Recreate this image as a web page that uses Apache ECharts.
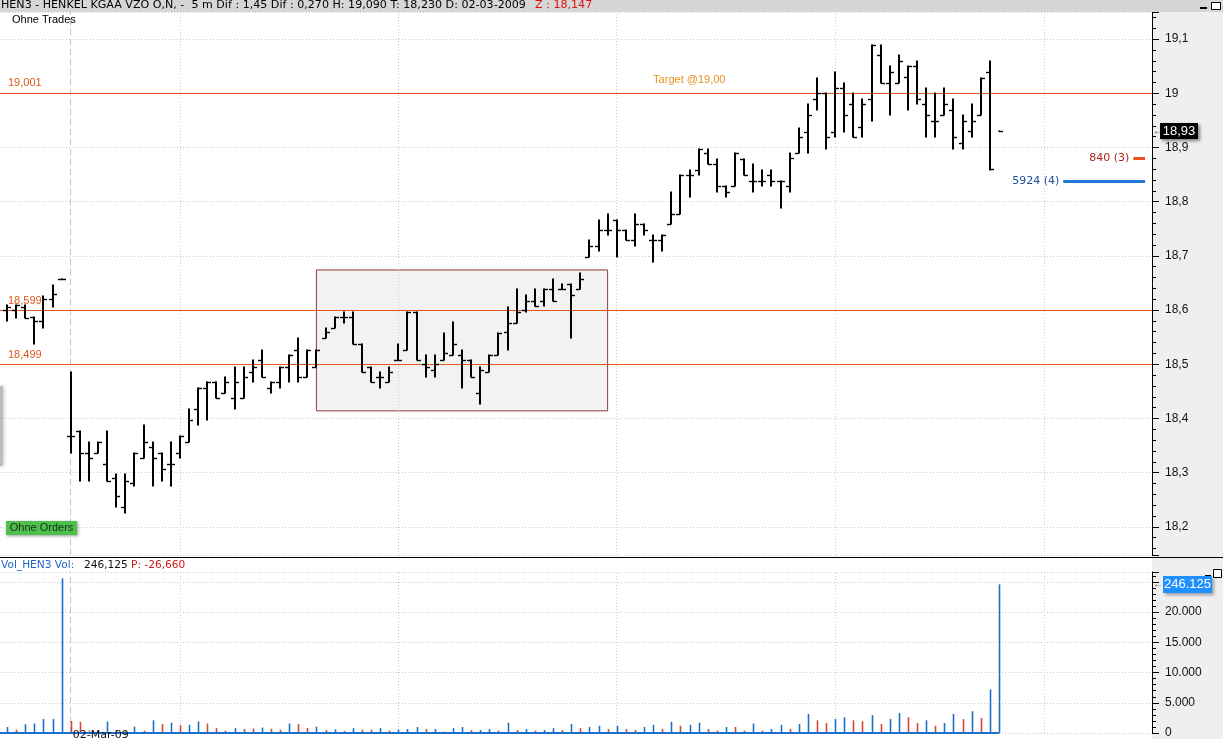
<!DOCTYPE html>
<html><head><meta charset="utf-8">
<script src="https://cdn.jsdelivr.net/npm/echarts@6/dist/echarts.min.js"></script>
<style>html,body{margin:0;padding:0;background:#fff;overflow:hidden}#c{width:1223px;height:739px}</style>
</head><body><div id="c"></div>
<script>
// ---------- DATA (5-minute OHLC bars, HEN3) ----------
const barOpen = [
18.600,18.600,18.605,18.587,18.580,18.620,18.657,18.367,18.377,18.337,
18.337,18.316,18.290,18.236,18.280,18.327,18.347,18.337,18.316,18.337,
18.356,18.417,18.457,18.467,18.447,18.437,18.437,18.486,18.508,18.457,
18.467,18.495,18.527,18.476,18.495,18.548,18.566,18.587,18.587,18.537,
18.495,18.476,18.467,18.508,18.527,18.597,18.500,18.490,18.508,18.517,
18.517,18.508,18.447,18.486,18.517,18.560,18.577,18.600,18.617,18.617,
18.638,18.638,18.648,18.638,18.697,18.718,18.748,18.767,18.748,18.729,
18.758,18.729,18.729,18.758,18.778,18.849,18.858,18.889,18.869,18.829,
18.829,18.878,18.838,18.838,18.849,18.838,18.829,18.889,18.929,18.989,
19.000,18.929,19.009,18.980,18.938,18.989,19.070,19.019,19.019,19.030,
19.050,18.980,18.949,18.960,18.969,18.908,18.930,18.960,19.040,null];
const barHigh = [
18.610,18.610,18.610,18.587,18.626,18.646,18.657,18.486,18.377,18.356,
18.356,18.377,18.297,18.297,18.337,18.388,18.356,18.337,18.356,18.368,
18.417,18.457,18.467,18.467,18.476,18.495,18.495,18.508,18.527,18.467,
18.495,18.517,18.548,18.527,18.527,18.566,18.587,18.597,18.597,18.537,
18.495,18.486,18.495,18.537,18.597,18.597,18.517,18.517,18.557,18.578,
18.527,18.508,18.495,18.517,18.557,18.606,18.638,18.628,18.638,18.638,
18.657,18.648,18.648,18.668,18.729,18.767,18.778,18.767,18.748,18.778,
18.758,18.738,18.738,18.818,18.849,18.858,18.898,18.898,18.878,18.829,
18.889,18.878,18.869,18.858,18.858,18.838,18.889,18.936,18.980,19.029,
19.000,19.040,19.019,19.000,18.989,19.089,19.089,19.050,19.070,19.050,
19.060,19.009,19.000,19.009,18.989,18.960,18.980,19.029,19.060,18.930];
const barLow = [
18.580,18.585,18.585,18.537,18.567,18.606,18.657,18.336,18.285,18.285,
18.337,18.285,18.236,18.225,18.276,18.327,18.276,18.285,18.276,18.327,
18.356,18.388,18.397,18.437,18.447,18.417,18.437,18.467,18.476,18.447,
18.457,18.467,18.467,18.476,18.495,18.548,18.566,18.577,18.537,18.486,
18.467,18.457,18.467,18.508,18.527,18.508,18.476,18.476,18.508,18.517,
18.457,18.476,18.427,18.486,18.517,18.527,18.577,18.597,18.607,18.607,
18.617,18.638,18.548,18.638,18.697,18.709,18.738,18.697,18.729,18.718,
18.738,18.688,18.709,18.758,18.778,18.808,18.849,18.869,18.818,18.808,
18.829,18.849,18.818,18.829,18.829,18.788,18.818,18.889,18.889,18.969,
18.898,18.919,18.929,18.919,18.919,18.949,19.019,18.960,19.019,18.969,
18.980,18.919,18.919,18.960,18.898,18.898,18.919,18.960,18.858,18.930];
const barClose = [
18.605,18.610,18.585,18.580,18.620,18.630,18.657,18.367,18.337,18.327,
18.356,18.285,18.257,18.285,18.337,18.356,18.327,18.306,18.316,18.368,
18.397,18.457,18.467,18.437,18.467,18.467,18.476,18.495,18.476,18.467,
18.495,18.517,18.476,18.527,18.527,18.560,18.587,18.587,18.537,18.486,
18.467,18.476,18.486,18.508,18.597,18.508,18.495,18.500,18.520,18.537,
18.508,18.476,18.490,18.517,18.557,18.577,18.597,18.617,18.607,18.638,
18.617,18.638,18.628,18.657,18.718,18.748,18.748,18.748,18.729,18.758,
18.748,18.729,18.738,18.778,18.849,18.849,18.898,18.869,18.829,18.818,
18.889,18.849,18.838,18.838,18.838,18.838,18.880,18.920,18.960,19.000,
18.919,19.009,18.960,18.919,18.980,19.089,19.019,19.040,19.060,19.050,
18.989,18.960,18.949,18.980,18.919,18.949,18.949,19.029,18.860,18.930];
const volume = [
1000,550,1450,1570,2300,2300,25600,2000,1850,400,
300,1900,500,300,1050,400,2100,1450,1700,1300,
1350,1900,1570,800,400,800,650,750,900,700,
550,1570,1450,850,1050,500,600,350,800,550,
550,800,400,550,650,1000,650,650,250,800,
1000,500,500,650,400,1700,500,650,400,500,
800,500,1500,800,1000,1200,650,1200,650,500,
1000,1350,650,1850,1200,1350,1700,650,400,1000,
1000,400,1570,400,650,1350,650,1500,3150,2100,
1650,2300,2600,2100,1950,2950,1500,2300,3300,2600,
1650,2100,1200,1650,3150,2300,3600,2500,7200,24612];
const volumeDir = [
1,-1,1,1,1,1,1,-1,-1,-1,
1,1,-1,-1,1,-1,1,-1,1,-1,
1,1,-1,-1,-1,1,-1,-1,1,-1,
-1,1,-1,-1,1,-1,1,-1,1,-1,
-1,1,-1,1,1,1,-1,1,-1,1,
1,-1,1,1,-1,1,-1,1,-1,1,
1,-1,1,-1,1,1,-1,1,-1,-1,
1,1,-1,1,-1,1,1,-1,-1,1,
-1,-1,1,-1,1,1,-1,1,1,-1,
-1,1,1,-1,-1,1,-1,1,1,-1,
-1,1,-1,1,1,-1,1,-1,1,1];
const levelValues = [19.001, 18.599, 18.499];
const levelLabels = ['19,001', '18,599', '18,499'];
const targetValue = 19.001;
const targetLabel = 'Target @19,00';
const targetAtBar = 71;
const zoneStartBar = 34, zoneEndBar = 66, zoneHigh = 18.674, zoneLow = 18.414;
const lastPrice = 18.93, lastPriceLabel = '18,93';
const lastVolumeLabel = '246.125';
const orderPrices = [18.880, 18.838];
const orderSizes = [840, 5924];
const orderLabels = ['840 (3)', '5924 (4)'];
const sessionStartBar = 7;
const hourLineBars = [19, 43, 67, 91, 114];
const dayLabel = '02-Mar-09';
const headerText = 'HEN3 - HENKEL KGAA VZO O,N, -  5 m Dif : 1,45 Dif : 0,270 H: 19,090 T: 18,230 D: 02-03-2009';
const headerRed = 'Z : 18,147';

// ---------- CHART ----------
const X_MIN = -0.77, X_MAX = 125.82;
const FONT = 'Liberation Sans, Arial, sans-serif';
const HFONT = 'DejaVu Sans, sans-serif';
const BLUE = '#1c6fc8', RED = '#d2473f', LEVEL = '#e0561c';
const chart = echarts.init(document.getElementById('c'));
const ohlcData = barClose.map((c, i) => [i, barOpen[i] == null ? '-' : barOpen[i], barHigh[i], barLow[i], c]);
const volData = volume.map((v, i) => [i, v, volumeDir[i]]);
const fmtPrice = v => String(+(+v).toFixed(3)).replace('.', ',');
const fmtVol = v => String(Math.round(v)).replace(/\B(?=(\d{3})+(?!\d))/g, '.');

function renderOHLC(params, api) {
  const i = api.value(0), o = api.value(1), h = api.value(2), l = api.value(3), c = api.value(4);
  const pH = api.coord([i, h]), pL = api.coord([i, l]);
  const x = Math.round(pH[0]);
  const ch = [{type: 'line', shape: {x1: x, y1: Math.round(pH[1]) - 0.5, x2: x, y2: Math.round(pL[1]) + 0.5}, style: {stroke: '#000', lineWidth: 2}}];
  if (!isNaN(o)) {
    const yo = Math.round(api.coord([i, o])[1]) + 0.5;
    ch.push({type: 'line', shape: {x1: x - 4, y1: yo, x2: x, y2: yo}, style: {stroke: '#000', lineWidth: 1.4}});
  }
  const yc = Math.round(api.coord([i, c])[1]) + 0.5;
  ch.push({type: 'line', shape: {x1: x, y1: yc, x2: x + 4, y2: yc}, style: {stroke: '#000', lineWidth: 1.4}});
  return {type: 'group', children: ch};
}
function renderVol(params, api) {
  const i = api.value(0), v = api.value(1), d = api.value(2);
  const p0 = api.coord([i, 0]), p1 = api.coord([i, v]);
  const x = Math.round(p0[0]) + 0.5;
  return {type: 'line', shape: {x1: x, y1: p0[1], x2: x, y2: p1[1]}, style: {stroke: d > 0 ? BLUE : RED, lineWidth: 1.6}};
}
const vLines = () => [
  {xAxis: sessionStartBar, lineStyle: {color: '#c2c2c2', type: [6, 4], width: 1}},
  ...hourLineBars.map(b => ({xAxis: b, lineStyle: {color: '#cdcdcd', type: [1, 2], width: 1}}))
];
const yAxisCommon = {
  position: 'right',
  axisLine: {show: true, onZero: false, lineStyle: {color: '#000'}},
  axisTick: {show: true, length: 7, lineStyle: {color: '#000'}},
  minorTick: {show: true, splitNumber: 5, length: 4, lineStyle: {color: '#000'}},
  splitLine: {show: true, lineStyle: {color: '#cacaca', type: [1, 2]}}
};

const option = {
  animation: false,
  backgroundColor: '#fff',
  grid: [
    {left: 0, right: 71, top: 12, bottom: 184},
    {left: 0, right: 71, top: 572, bottom: 5}
  ],
  xAxis: [
    {type: 'value', gridIndex: 0, min: X_MIN, max: X_MAX, show: false},
    {type: 'value', gridIndex: 1, min: X_MIN, max: X_MAX, show: false}
  ],
  yAxis: [
    Object.assign({type: 'value', gridIndex: 0, min: 18.148, max: 19.15, splitNumber: 10, minInterval: 0.1, maxInterval: 0.1,
     axisLabel: {color: '#111', fontSize: 12, fontFamily: FONT, margin: 13, showMinLabel: false, showMaxLabel: false, formatter: fmtPrice}}, yAxisCommon),
    Object.assign({type: 'value', gridIndex: 1, min: 0, max: 26650, splitNumber: 5, minInterval: 5000, maxInterval: 5000,
     axisLabel: {color: '#111', fontSize: 12, fontFamily: FONT, margin: 13, showMaxLabel: false, formatter: fmtVol}}, yAxisCommon)
  ],
  series: [
    {type: 'custom', name: 'HEN3', xAxisIndex: 0, yAxisIndex: 0, data: ohlcData, renderItem: renderOHLC,
     encode: {x: 0, y: [2, 3]}, clip: true, z: 5,
     markArea: {silent: true, itemStyle: {color: 'rgba(222,222,222,0.38)', borderColor: '#8c3a3a', borderWidth: 1},
       data: [[{coord: [zoneStartBar, zoneHigh]}, {coord: [zoneEndBar, zoneLow]}]]},
     markLine: {silent: true, symbol: 'none', label: {show: false},
       data: [
         ...vLines(),
         ...levelValues.map(v => ({yAxis: v, lineStyle: {color: LEVEL, width: 1.2, type: 'solid'}}))
       ]}
    },
    {type: 'custom', name: 'Vol', xAxisIndex: 1, yAxisIndex: 1, data: volData, renderItem: renderVol,
     encode: {x: 0, y: 1}, clip: true, z: 5,
     markLine: {silent: true, symbol: 'none', label: {show: false}, data: vLines()}},
    {type: 'line', name: 'VolBase', xAxisIndex: 1, yAxisIndex: 1, symbol: 'none', silent: true, z: 6,
     lineStyle: {color: BLUE, width: 2}, data: [[X_MIN, 0], [volume.length - 1, 0]]}
  ]
};
chart.setOption(option);

// ---------- overlay texts & markers placed through the axes ----------
const yP = v => chart.convertToPixel({yAxisIndex: 0}, v);
const yV = v => chart.convertToPixel({yAxisIndex: 1}, v);
const xP = b => chart.convertToPixel({xAxisIndex: 0}, b);
const txt = (x, y, text, fill, font, extra) => Object.assign({type: 'text', x, y, z: 50,
  style: Object.assign({text, fill, font: font || ('11px ' + FONT), verticalAlign: 'top'}, (extra && extra.style) || {})},
  extra && extra.z ? {z: extra.z} : {});
const g = [];
// right gray panel
g.push({type: 'rect', z: -5, shape: {x: 1152, y: 12, width: 71, height: 727}, style: {fill: '#efefef'}});
// header
g.push({type: 'rect', z: 40, shape: {x: 0, y: 0, width: 1223, height: 12}, style: {fill: '#d6d6d6'}});
g.push(txt(1, 0, headerText, '#000', '11.1px ' + HFONT, {z: 41}));
g.push(txt(535, 0, headerRed, '#e01010', '11.1px ' + HFONT, {z: 41}));
g.push({type: 'rect', z: 41, shape: {x: 1200, y: 7, width: 7, height: 2}, style: {fill: '#000'}});
g.push({type: 'rect', z: 41, shape: {x: 1211.5, y: 2.5, width: 9, height: 7}, style: {fill: '#fff', stroke: '#000', lineWidth: 1}});
// pane separator
g.push({type: 'line', z: 40, shape: {x1: 0, y1: 557.5, x2: 1223, y2: 557.5}, style: {stroke: '#000', lineWidth: 1.2}});
g.push({type: 'rect', z: 41, shape: {x: 1205, y: 575, width: 6, height: 2}, style: {fill: '#000'}});
g.push({type: 'rect', z: 41, shape: {x: 1213.5, y: 569.5, width: 8, height: 8}, style: {fill: '#fff', stroke: '#000', lineWidth: 1}});
// labels top-left
g.push(txt(12, 14, 'Ohne Trades', '#000'));
// Ohne Orders button
g.push({type: 'rect', z: 49, shape: {x: 6, y: 521, width: 71, height: 14}, style: {fill: '#4dbf4d', shadowBlur: 3, shadowColor: 'rgba(0,0,0,0.4)', shadowOffsetX: 1, shadowOffsetY: 1}});
g.push(txt(41.5, 522, 'Ohne Orders', '#173017', null, {style: {align: 'center'}}));
// left tab
g.push({type: 'rect', z: 30, shape: {x: 0, y: 386, width: 3, height: 80}, style: {fill: '#bdbdbd', shadowBlur: 4, shadowColor: 'rgba(0,0,0,0.35)'}});
// level labels
levelValues.forEach((v, k) => {
  g.push(txt(8, yP(v) - 4, levelLabels[k], LEVEL, null, {style: {verticalAlign: 'bottom'}}));
});
g.push(txt(xP(targetAtBar), yP(targetValue) - 7, targetLabel, '#e6921e', null, {style: {verticalAlign: 'bottom'}}));
// last price marker
const yLast = Math.round(yP(lastPrice));
g.push(txt(1153, yLast, '\u2190', '#444', '10px ' + FONT, {z: 60, style: {verticalAlign: 'middle'}}));
g.push({type: 'rect', z: 60, shape: {x: 1160, y: yLast - 8, width: 38, height: 16}, style: {fill: '#000', shadowBlur: 3, shadowColor: 'rgba(0,0,0,0.45)', shadowOffsetX: 2, shadowOffsetY: 2}});
g.push(txt(1179, yLast, lastPriceLabel, '#fff', '13px ' + FONT, {z: 61, style: {align: 'center', verticalAlign: 'middle'}}));
// last volume marker
const yLV = Math.round(yV(volume[volume.length - 1]));
g.push(txt(1153, yLV, '\u2190', '#444', '10px ' + FONT, {z: 60, style: {verticalAlign: 'middle'}}));
g.push({type: 'rect', z: 60, shape: {x: 1163, y: yLV - 8, width: 49, height: 17}, style: {fill: '#1e90ff', shadowBlur: 3, shadowColor: 'rgba(0,0,0,0.35)', shadowOffsetX: 2, shadowOffsetY: 2}});
g.push(txt(1187.5, yLV + 0.5, lastVolumeLabel, '#fff', '13px ' + FONT, {z: 61, style: {align: 'center', verticalAlign: 'middle'}}));
// order book lines
const orderColors = [['#e8501c', '#b0241c'], ['#1e7ad8', '#1e4f9c']];
orderPrices.forEach((p, k) => {
  const y = Math.round(yP(p)) + 0.5;
  const x1 = 1145, x0 = x1 - orderSizes[k] * 0.0138;
  g.push({type: 'line', z: 50, shape: {x1: x0, y1: y, x2: x1, y2: y}, style: {stroke: orderColors[k][0], lineWidth: 3}});
  g.push(txt(x0 - 4, y, orderLabels[k], orderColors[k][1], '11px ' + HFONT, {style: {align: 'right', verticalAlign: 'middle'}}));
});
// volume pane header
g.push(txt(1, 560, 'Vol_HEN3 Vol:', '#1e64c8', '10.6px ' + HFONT));
g.push(txt(84, 560, '246,125', '#111', '10.6px ' + HFONT));
g.push(txt(131, 560, 'P: -26,660', '#d01818', '10.6px ' + HFONT));
// day label
g.push(txt(xP(sessionStartBar) + 2, 730, dayLabel, '#111', '11px ' + HFONT));
chart.setOption({graphic: g});
</script>
</body></html>
